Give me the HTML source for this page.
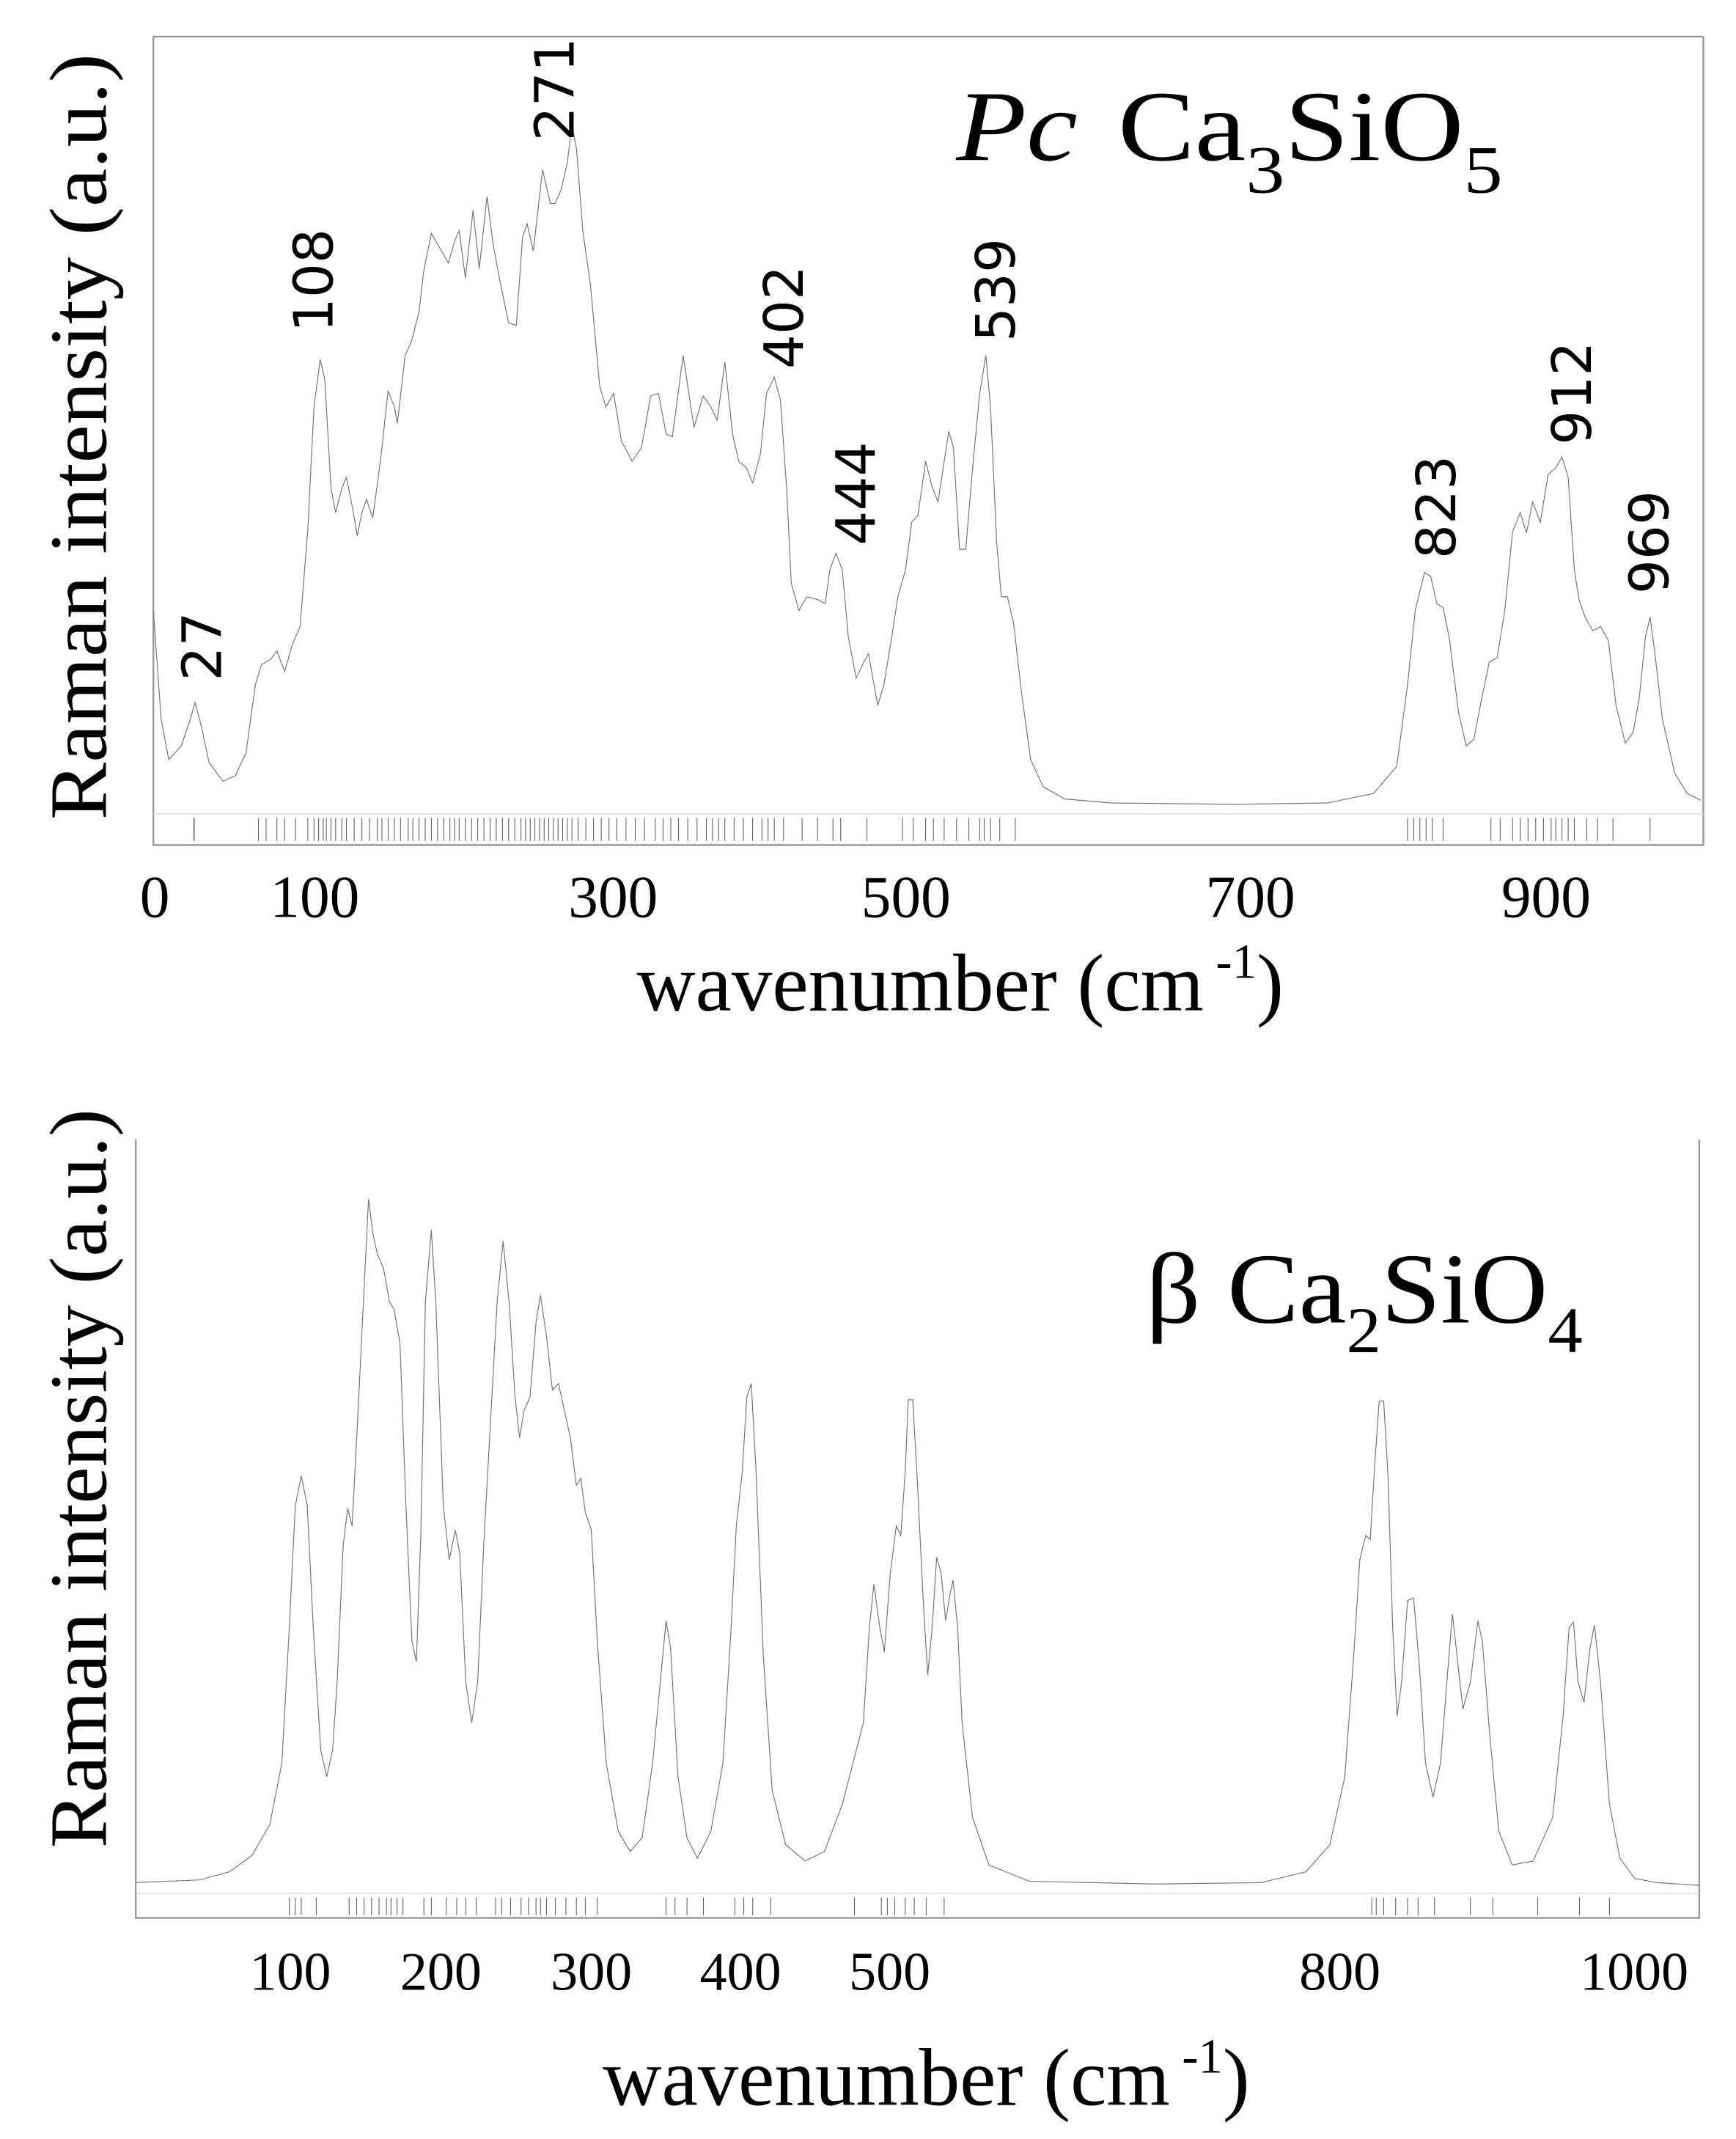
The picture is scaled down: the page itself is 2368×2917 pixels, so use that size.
<!DOCTYPE html>
<html><head><meta charset="utf-8"><style>html,body{margin:0;padding:0;background:#fff}svg{display:block}</style></head>
<body>
<svg width="2368" height="2917" viewBox="0 0 1280 1577" xmlns="http://www.w3.org/2000/svg" font-family="Liberation Serif, serif">
<!-- TOP PANEL -->
<polyline points="1256,27 113,27 113,623 1256,623 1256,27" fill="none" stroke="#9a9a9a" stroke-width="1.3"/>
<line x1="113" y1="600" x2="1256" y2="600" stroke="#ddd" stroke-width="0.8"/>
<g transform="translate(113,0) scale(1.139,1)" fill="none" stroke="#777" stroke-width="1.2">
<polyline vector-effect="non-scaling-stroke" points="0,450 5,530 10,560 18,550 24,530 27,518 31,535 36,562 45,576 53,572 60,555 66,505 70,490 76,486 80,480 85,495 90,475 95,462 100,390 104,300 108,265 111,280 115,360 118,378 122,360 125,352 129,375 132,395 135,378 138,368 142,382 147,340 152,288 156,300 158,312 163,262 167,252 172,230 175,200 180,172 184,180 188,188 191,194 195,178 198,170 202,205 207,155 211,198 216,145 220,180 224,205 230,238 235,240 239,175 242,165 246,185 252,125 257,150 260,150 264,140 268,120 271,92 274,110 278,170 283,210 289,285 293,300 298,290 303,325 310,340 316,330 322,292 327,290 332,320 336,322 343,262 348,300 350,315 356,292 361,300 365,310 370,267 375,320 379,340 384,345 388,356 393,335 397,290 402,278 406,295 410,360 413,430 418,450 423,440 430,442 435,445 438,420 442,408 446,420 450,470 455,500 460,488 463,482 469,520 473,505 478,470 482,440 487,420 491,385 495,380 500,340 504,358 508,370 511,348 515,318 518,330 522,405 526,405 530,350 535,290 539,262 542,300 546,400 549,440 553,440 557,460 562,510 568,560 576,580 590,589 620,592 700,593 760,592 790,585 805,565 812,505 817,450 823,422 827,425 831,445 835,448 839,470 845,525 850,550 855,545 860,515 865,488 870,485 875,450 880,392 885,378 889,393 893,370 898,385 903,350 908,345 912,337 916,352 920,420 923,442 927,455 932,465 937,462 942,472 947,520 953,548 958,540 962,515 966,470 969,455 972,480 977,530 985,570 993,585 1002,590"/>
</g>
<line x1="143" y1="603" x2="143" y2="620" stroke="#555" stroke-width="0.8"/>
<g transform="translate(113,0) scale(1.139,1)" stroke="#555" stroke-width="1">
<path vector-effect="non-scaling-stroke" d="M68 603V620M73 603V620M80 603V620M85 603V620M92 603V620M100 603V620M104 603V620M107 603V620M110 603V620M112 603V620M115 603V620M118 603V620M122 603V620M125 603V620M130 603V620M135 603V620M140 603V620M145 603V620M148 603V620M152 603V620M156 603V620M160 603V620M165 603V620M168 603V620M172 603V620M176 603V620M180 603V620M184 603V620M188 603V620M192 603V620M195 603V620M198 603V620M202 603V620M206 603V620M210 603V620M214 603V620M218 603V620M222 603V620M226 603V620M230 603V620M234 603V620M238 603V620M241 603V620M244 603V620M247 603V620M250 603V620M253 603V620M256 603V620M259 603V620M262 603V620M265 603V620M268 603V620M271 603V620M275 603V620M280 603V620M285 603V620M290 603V620M295 603V620M300 603V620M306 603V620M312 603V620M318 603V620M325 603V620M330 603V620M335 603V620M340 603V620M346 603V620M352 603V620M358 603V620M362 603V620M366 603V620M370 603V620M376 603V620M382 603V620M388 603V620M394 603V620M398 603V620M402 603V620M408 603V620M420 603V620M430 603V620M440 603V620M445 603V620M462 603V620M485 603V620M492 603V620M500 603V620M505 603V620M512 603V620M520 603V620M528 603V620M535 603V620M538 603V620M542 603V620M548 603V620M558 603V620M812 603V620M816 603V620M820 603V620M824 603V620M828 603V620M835 603V620M866 603V620M872 603V620M880 603V620M885 603V620M890 603V620M895 603V620M900 603V620M905 603V620M908 603V620M912 603V620M916 603V620M920 603V620M928 603V620M935 603V620M945 603V620M969 603V620"/>
</g>
<g font-size="44" text-anchor="middle" fill="#000">
<text x="114" y="676">0</text><text x="232" y="676">100</text><text x="452" y="676">300</text><text x="668" y="676">500</text><text x="922" y="676">700</text><text x="1140" y="676">900</text>
</g>
<text x="708" y="745" font-size="60" text-anchor="middle">wavenumber (cm<tspan font-size="36" dy="-24"> -1</tspan><tspan dy="24">)</tspan></text>
<text transform="translate(78,322) rotate(-90)" font-size="60" text-anchor="middle" textLength="565" lengthAdjust="spacingAndGlyphs">Raman intensity (a.u.)</text>
<g font-family="DejaVu Sans, sans-serif" font-size="40" fill="#000">
<text transform="translate(163,502) rotate(-90)">27</text>
<text transform="translate(245,245) rotate(-90)">108</text>
<text transform="translate(423,104) rotate(-90)">271</text>
<text transform="translate(592,272) rotate(-90)">402</text>
<text transform="translate(645,402) rotate(-90)">444</text>
<text transform="translate(748,252) rotate(-90)">539</text>
<text transform="translate(1073,412) rotate(-90)">823</text>
<text transform="translate(1173,328) rotate(-90)">912</text>
<text transform="translate(1230,438) rotate(-90)">969</text>
</g>
<text x="705" y="118" font-size="74" textLength="403" lengthAdjust="spacingAndGlyphs"><tspan font-style="italic">Pc</tspan><tspan dx="26">Ca</tspan><tspan font-size="50" dy="24">3</tspan><tspan dy="-24">SiO</tspan><tspan font-size="50" dy="24">5</tspan></text>

<!-- BOTTOM PANEL -->
<polyline points="100,840 100,1414 1253,1414 1253,840" fill="none" stroke="#9a9a9a" stroke-width="1.3"/>
<line x1="100" y1="1396" x2="1253" y2="1396" stroke="#ddd" stroke-width="0.8"/>
<g transform="translate(103,0) scale(1.1025,1)" fill="none" stroke="#777" stroke-width="1.2">
<polyline vector-effect="non-scaling-stroke" points="-3,1388 40,1386 60,1380 75,1368 87,1345 95,1300 100,1200 104,1110 108,1088 112,1110 116,1200 121,1290 125,1310 129,1290 132,1240 136,1140 139,1112 142,1125 146,1040 150,950 153,884 156,910 159,925 163,935 167,960 170,965 174,990 178,1110 182,1210 185,1225 188,1130 191,960 195,907 198,960 203,1110 207,1150 211,1128 214,1145 218,1240 222,1270 226,1240 230,1140 234,1060 239,960 243,915 247,960 251,1030 254,1060 257,1040 261,1030 265,975 268,955 272,985 276,1025 280,1020 284,1040 288,1060 292,1095 295,1090 298,1115 302,1128 306,1210 312,1300 320,1350 328,1365 336,1355 343,1300 349,1230 352,1195 355,1215 360,1310 366,1355 373,1370 382,1350 390,1300 395,1210 399,1125 403,1085 406,1030 409,1020 412,1080 417,1220 423,1320 432,1360 445,1372 458,1365 470,1330 484,1270 488,1200 491,1168 495,1200 498,1218 502,1160 506,1125 509,1132 512,1085 514,1032 517,1032 520,1090 524,1180 527,1235 530,1200 533,1148 536,1160 539,1195 542,1175 544,1165 547,1200 550,1270 557,1340 568,1375 595,1387 680,1389 750,1388 780,1380 796,1360 806,1310 812,1220 816,1150 820,1132 823,1135 826,1080 829,1033 832,1033 835,1090 838,1200 841,1265 844,1240 848,1180 852,1178 856,1230 860,1300 865,1325 870,1300 875,1230 878,1190 881,1220 885,1260 890,1240 895,1195 898,1210 903,1280 909,1350 918,1375 932,1372 945,1340 952,1265 956,1200 959,1196 962,1240 966,1255 970,1215 973,1198 977,1240 983,1330 990,1370 1000,1385 1015,1388 1043,1390"/>
</g>
<g transform="translate(103,0) scale(1.1025,1)" stroke="#555" stroke-width="1">
<path vector-effect="non-scaling-stroke" d="M100 1399V1412M104 1399V1412M108 1399V1412M118 1399V1412M140 1399V1412M145 1399V1412M150 1399V1412M155 1399V1412M160 1399V1412M165 1399V1412M168 1399V1412M172 1399V1412M176 1399V1412M190 1399V1412M195 1399V1412M205 1399V1412M212 1399V1412M218 1399V1412M225 1399V1412M238 1399V1412M242 1399V1412M248 1399V1412M255 1399V1412M260 1399V1412M265 1399V1412M268 1399V1412M272 1399V1412M278 1399V1412M285 1399V1412M292 1399V1412M298 1399V1412M306 1399V1412M352 1399V1412M358 1399V1412M366 1399V1412M377 1399V1412M398 1399V1412M404 1399V1412M410 1399V1412M422 1399V1412M478 1399V1412M496 1399V1412M500 1399V1412M505 1399V1412M512 1399V1412M518 1399V1412M526 1399V1412M538 1399V1412M824 1399V1412M827 1399V1412M832 1399V1412M840 1399V1412M848 1399V1412M855 1399V1412M866 1399V1412M890 1399V1412M905 1399V1412M935 1399V1412M963 1399V1412M983 1399V1412"/>
</g>
<g font-size="40" text-anchor="middle" fill="#000">
<text x="214" y="1467">100</text><text x="325" y="1467">200</text><text x="436" y="1467">300</text><text x="546" y="1467">400</text><text x="656" y="1467">500</text><text x="988" y="1467">800</text><text x="1205" y="1467">1000</text>
</g>
<text x="683" y="1552" font-size="60" text-anchor="middle">wavenumber (cm<tspan font-size="36" dy="-24"> -1</tspan><tspan dy="24">)</tspan></text>
<text transform="translate(78,1090) rotate(-90)" font-size="60" text-anchor="middle" textLength="545" lengthAdjust="spacingAndGlyphs">Raman intensity (a.u.)</text>
<text x="845" y="975" font-size="74" textLength="322" lengthAdjust="spacingAndGlyphs">β <tspan>Ca</tspan><tspan font-size="48" dy="22">2</tspan><tspan dy="-22">SiO</tspan><tspan font-size="48" dy="22">4</tspan></text>
</svg>
</body></html>
